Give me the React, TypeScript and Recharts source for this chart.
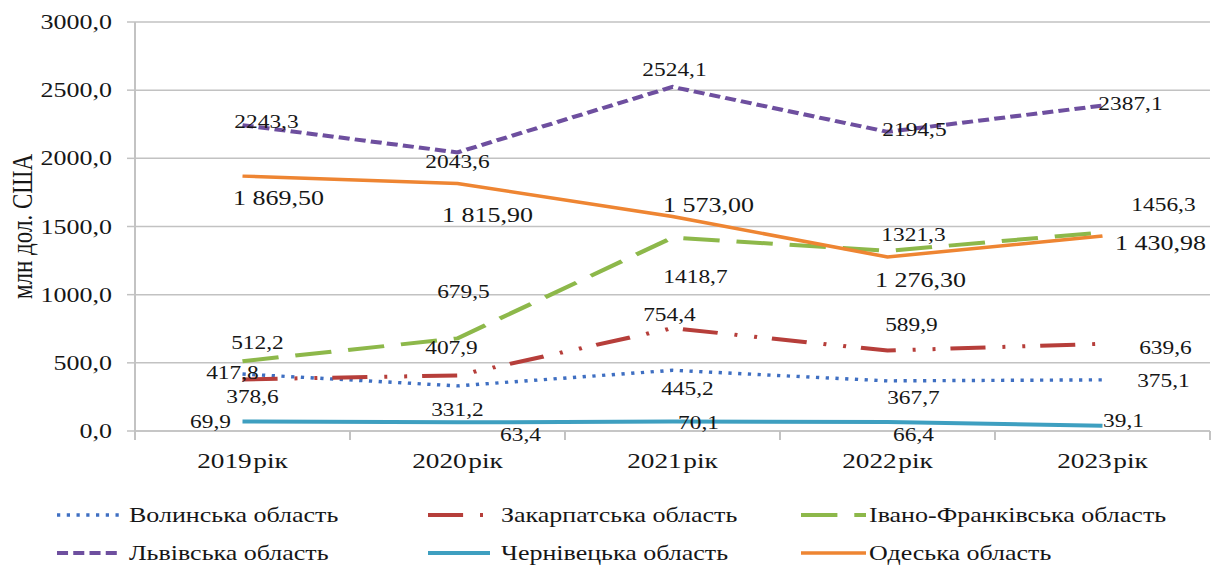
import React from 'react';
import { LineChart, Line, XAxis, YAxis, CartesianGrid, Legend, LabelList } from 'recharts';

// ---- data ----
const years = ['2019 рік', '2020 рік', '2021 рік', '2022 рік', '2023 рік'];
const volyn = [417.8, 331.2, 445.2, 367.7, 375.1];
const zakarpattia = [378.6, 407.9, 754.4, 589.9, 639.6];
const ivanoFrankivsk = [512.2, 679.5, 1418.7, 1321.3, 1456.3];
const lviv = [2243.3, 2043.6, 2524.1, 2194.5, 2387.1];
const chernivtsi = [69.9, 63.4, 70.1, 66.4, 39.1];
const odesa = [1869.5, 1815.9, 1573.0, 1276.3, 1430.98];
const yTicks = [0, 500, 1000, 1500, 2000, 2500, 3000];

// ---- layout ----
// The whole drawing is stretched horizontally by S (wide Excel-style text).
const S = 1.3;
const FULL_W = 1212;
const H = 569;
const W = FULL_W / S;
const PLOT_LEFT = 135 / S;
const PLOT_RIGHT = 1210 / S;
const HALF_BAND = (PLOT_RIGHT - PLOT_LEFT) / years.length / 2;
const LEGEND_H = 78;
const XAXIS_H = 60;
const FONT = "'Liberation Serif', 'Times New Roman', serif";
const TEXT = '#161616';
const GRID = '#C2C2C2';

const fmt1 = (v: number) => v.toFixed(1).replace('.', ',');
const fmt2 = (v: number) => {
  const [i, d] = v.toFixed(2).split('.');
  return i.replace(/\B(?=(\d{3})+(?!\d))/g, ' ') + ',' + d;
};

const data = years.map((year, i) => ({
  year,
  volyn: volyn[i],
  zakarpattia: zakarpattia[i],
  ivanoFrankivsk: ivanoFrankivsk[i],
  lviv: lviv[i],
  chernivtsi: chernivtsi[i],
  odesa: odesa[i],
}));

type Series = {
  key: string;
  name: string;
  color: string;
  width: number;
  dash?: string;
  fontSize: number;
  fmt: (v: number) => string;
  // label offsets from each point, in screen pixels
  offsets: [number, number][];
  row: number;
  col: number;
};

const series: Series[] = [
  {
    key: 'volyn', name: 'Волинська область', color: '#3F6FC2', width: 3.4, dash: '2.5 5',
    fontSize: 18, fmt: fmt1, row: 0, col: 0,
    offsets: [[-10, -1], [0, 24], [15, 19], [26, 17], [61, 1]],
  },
  {
    key: 'zakarpattia', name: 'Закарпатська область', color: '#B63E3A', width: 4, dash: '27 13 2.3 13 2.3 11.5',
    fontSize: 18, fmt: fmt1, row: 0, col: 1,
    offsets: [[10, 18], [-6, -27], [-3, -13], [24, -26], [63, 4]],
  },
  {
    key: 'ivanoFrankivsk', name: 'Івано-Франківська область', color: '#8DB84A', width: 4, dash: '28 13',
    fontSize: 18, fmt: fmt1, row: 0, col: 2,
    offsets: [[15, -18], [6, -46], [23, 39], [26, -16], [61, -27]],
  },
  {
    key: 'lviv', name: 'Львівська область', color: '#6E4F9F', width: 4, dash: '8.5 4',
    fontSize: 18, fmt: fmt1, row: 1, col: 0,
    offsets: [[24, -3], [0, 10], [2, -17], [27, -2], [28, -2]],
  },
  {
    key: 'chernivtsi', name: 'Чернівецька область', color: '#3E9FC0', width: 4,
    fontSize: 18, fmt: fmt1, row: 1, col: 1,
    offsets: [[-32, 1], [63, 13], [26, 2], [26, 13], [21, -5]],
  },
  {
    key: 'odesa', name: 'Одеська область', color: '#EE8532', width: 3.5,
    fontSize: 20, fmt: fmt2, row: 1, col: 2,
    offsets: [[36, 22], [30, 32], [36, -11], [33, 23], [58, 7]],
  },
];

// legend columns (screen px): sample start, sample end, text start
const LEGEND_COLS = [
  { x1: 57, x2: 120, tx: 129 },
  { x1: 428, x2: 490, tx: 501 },
  { x1: 801, x2: 866, tx: 869 },
];
const LEGEND_ROWS = [24, 62];

const makeLabel = (s: Series) => (props: any) => {
  const px = props.x ?? props.viewBox?.x;
  const py = props.y ?? props.viewBox?.y;
  const idx = props.index ?? 0;
  const [dx, dy] = s.offsets[idx] || [0, 0];
  return (
    <text
      x={px + dx / S}
      y={py + dy}
      textAnchor="middle"
      dominantBaseline="central"
      fontFamily={FONT}
      fontSize={s.fontSize}
      fill={TEXT}
    >
      {s.fmt(Number(props.value))}
    </text>
  );
};

const XTick = (props: any) => {
  const { x, y, payload, index } = props;
  const last = index === years.length - 1;
  return (
    <g>
      <line x1={x - HALF_BAND} x2={x - HALF_BAND} y1={y} y2={y + 9} stroke={GRID} strokeWidth={1.5} />
      {last && <line x1={x + HALF_BAND} x2={x + HALF_BAND} y1={y} y2={y + 9} stroke={GRID} strokeWidth={1.5} />}
      <text
        x={x}
        y={y + 37}
        textAnchor="middle"
        fontFamily={FONT}
        fontSize={21}
        fill={TEXT}
        style={{ wordSpacing: -4 }}
      >
        {payload.value}
      </text>
    </g>
  );
};

const YLabel = (props: any) => {
  const vb = props.viewBox || { x: 0, y: 22, width: 0, height: 409 };
  const cx = 22 / S;
  const cy = vb.y + vb.height / 2;
  return (
    <text
      transform={`translate(${cx}, ${cy}) rotate(-90)`}
      textAnchor="middle"
      dominantBaseline="central"
      fontFamily={FONT}
      fontSize={23}
      fill={TEXT}
    >
      млн дол. США
    </text>
  );
};

const LegendContent = () => (
  <svg width={W} height={LEGEND_H} style={{ display: 'block', overflow: 'visible' }}>
    {series.map((s) => {
      const c = LEGEND_COLS[s.col];
      const cy = LEGEND_ROWS[s.row];
      return (
        <g key={s.key}>
          <line
            x1={c.x1 / S}
            x2={c.x2 / S}
            y1={cy}
            y2={cy}
            stroke={s.color}
            strokeWidth={s.width}
            strokeDasharray={s.dash}
          />
          <text
            x={c.tx / S}
            y={cy}
            dominantBaseline="central"
            fontFamily={FONT}
            fontSize={20}
            fill={TEXT}
          >
            {s.name}
          </text>
        </g>
      );
    })}
  </svg>
);

export default function App() {
  return (
    <div
      style={{
        position: 'absolute',
        left: 0,
        top: 0,
        width: FULL_W,
        height: H,
        overflow: 'hidden',
        background: '#ffffff',
      }}
    >
      <div style={{ width: W, height: H, transform: `scaleX(${S})`, transformOrigin: '0 0' }}>
        <LineChart
          width={W}
          height={H}
          data={data}
          margin={{ top: 22, right: W - PLOT_RIGHT, left: 0, bottom: 0 }}
        >
          <CartesianGrid vertical={false} stroke={GRID} strokeWidth={1.5} />
          <XAxis
            dataKey="year"
            height={XAXIS_H}
            padding={{ left: HALF_BAND, right: HALF_BAND }}
            axisLine={{ stroke: GRID, strokeWidth: 1.5 }}
            tickLine={false}
            tickSize={0}
            tickMargin={0}
            interval={0}
            tick={<XTick />}
          />
          <YAxis
            width={PLOT_LEFT}
            domain={[0, 3000]}
            ticks={yTicks}
            interval={0}
            tickFormatter={fmt1}
            axisLine={{ stroke: GRID, strokeWidth: 1.5 }}
            tickLine={{ stroke: GRID, strokeWidth: 1.5 }}
            tickSize={8 / S}
            tickMargin={15 / S}
            tick={{ fontFamily: FONT, fontSize: 20, fill: TEXT }}
            label={{ content: <YLabel /> }}
          />
          <Legend
            verticalAlign="bottom"
            content={<LegendContent />}
            wrapperStyle={{ left: 0, bottom: 0, width: W, height: LEGEND_H }}
          />
          {series.map((s) => (
            <Line
              key={s.key}
              type="linear"
              dataKey={s.key}
              name={s.name}
              stroke={s.color}
              strokeWidth={s.width}
              strokeDasharray={s.dash}
              dot={false}
              activeDot={false}
              isAnimationActive={false}
            >
              <LabelList dataKey={s.key} content={makeLabel(s)} />
            </Line>
          ))}
        </LineChart>
      </div>
    </div>
  );
}
